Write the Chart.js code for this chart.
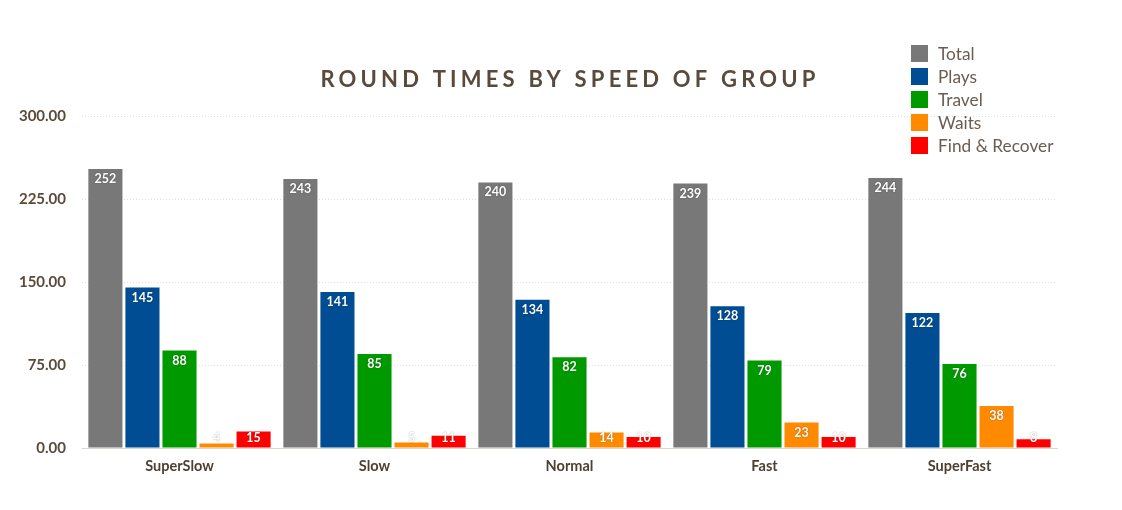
<!DOCTYPE html>
<html>
<head>
<meta charset="utf-8">
<script src="https://cdn.jsdelivr.net/npm/chart.js@4"></script>
<style>
  html, body { margin: 0; padding: 0; background: #fff; }
  #wrap { width: 1122px; height: 510px; }
</style>
</head>
<body>
<div id="wrap"><canvas id="roundChart" width="1122" height="510"></canvas></div>
<script>
// Chart data
const categories = ['SuperSlow', 'Slow', 'Normal', 'Fast', 'SuperFast'];
const seriesNames = ['Total', 'Plays', 'Travel', 'Waits', 'Find & Recover'];
const totalVals = [252, 243, 240, 239, 244];
const playsVals = [145, 141, 134, 128, 122];
const travelVals = [88, 85, 82, 79, 76];
const waitsVals = [4, 5, 14, 23, 38];
const findVals = [15, 11, 10, 10, 8];
const yTicks = [0, 75, 150, 225, 300];
const titleText = 'ROUND TIMES BY SPEED OF GROUP';

const colors = ['#787878', '#004d93', '#009a00', '#ff8a00', '#ff0000'];
const brown = '#5a4a3b';
const fontFam = 'Lato, "Noto Sans", sans-serif';

// Title with letter spacing (Chart.js title can't space letters)
const titlePlugin = {
  id: 'spacedTitle',
  afterDraw(chart) {
    const c = chart.ctx;
    c.save();
    c.font = 'bold 22px ' + fontFam;
    c.fillStyle = brown;
    c.letterSpacing = '4.2px';
    c.textAlign = 'center';
    c.textBaseline = 'middle';
    c.fillText(titleText, 570, 80);
    c.restore();
  }
};

// Vertical legend drawn over the top-right corner
const legendPlugin = {
  id: 'cornerLegend',
  afterDraw(chart) {
    const c = chart.ctx;
    c.save();
    c.font = '17.3px ' + fontFam;
    c.textBaseline = 'middle';
    chart.data.datasets.forEach((ds, i) => {
      const y = 53 + i * 23;
      c.fillStyle = ds.backgroundColor;
      c.fillRect(911, y - 8, 17, 17);
      c.fillStyle = '#6a5d50';
      c.fillText(ds.label, 938, y + 1);
    });
    c.restore();
  }
};

// White value labels at the top of each bar
const valuePlugin = {
  id: 'barValues',
  afterDatasetsDraw(chart) {
    const c = chart.ctx;
    c.save();
    c.font = 'bold 12.5px ' + fontFam;
    c.textAlign = 'center';
    c.textBaseline = 'middle';
    c.fillStyle = '#fff';
    c.shadowColor = 'rgba(0,0,0,0.4)';
    c.shadowBlur = 1.5;
    chart.data.datasets.forEach((ds, i) => {
      chart.getDatasetMeta(i).data.forEach((bar, j) => {
        const y = Math.min(bar.y + 10, bar.base - 10);
        c.fillText(String(ds.data[j]), bar.x, y);
      });
    });
    c.restore();
  }
};

const seriesVals = [totalVals, playsVals, travelVals, waitsVals, findVals];

new Chart(document.getElementById('roundChart').getContext('2d'), {
  type: 'bar',
  data: {
    labels: categories,
    datasets: seriesNames.map((name, i) => ({
      label: name,
      data: seriesVals[i],
      backgroundColor: colors[i],
      borderWidth: 0,
      categoryPercentage: 0.95,
      barPercentage: 0.92
    }))
  },
  options: {
    responsive: false,
    animation: false,
    layout: { padding: { left: 0, right: 65, top: 116, bottom: 22 } },
    plugins: {
      legend: { display: false },
      title: { display: false },
      tooltip: { enabled: false }
    },
    scales: {
      x: {
        grid: { display: false, drawTicks: false },
        border: { color: '#ddd6cf', width: 1 },
        ticks: { color: '#4e3f31', font: { family: fontFam, size: 14.5, weight: 'bold' }, padding: 10 },
        afterFit(s) { s.height = 40; }
      },
      y: {
        min: 0,
        max: 300,
        afterBuildTicks(s) { s.ticks = yTicks.map(v => ({ value: v })); },
        grid: { color: '#e0e0e0', lineWidth: 1, drawTicks: false },
        border: { display: false, dash: [1, 2] },
        ticks: {
          color: brown,
          font: { family: fontFam, size: 15, weight: 'bold' },
          padding: 16,
          callback: v => Number(v).toFixed(2)
        },
        afterFit(s) { s.width = 82; }
      }
    }
  },
  plugins: [titlePlugin, legendPlugin, valuePlugin]
});
</script>
</body>
</html>
